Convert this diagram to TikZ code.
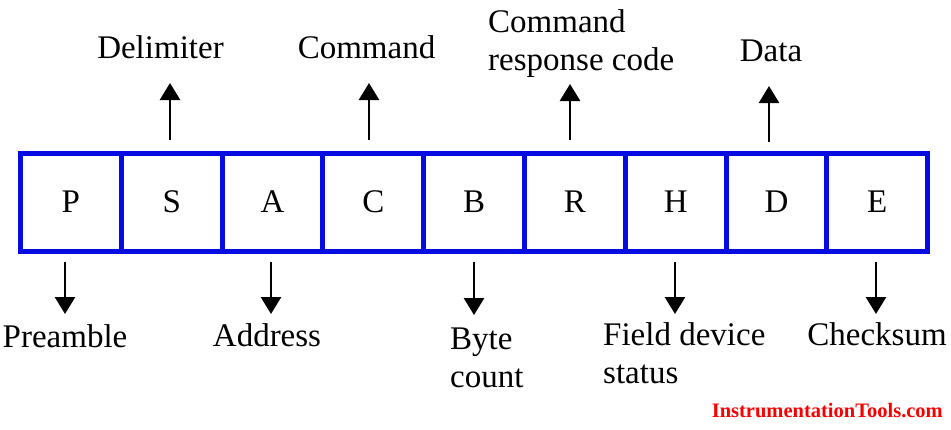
\documentclass[tikz,border=0pt]{standalone}
\usepackage{fontspec}
\setmainfont{Liberation Serif}
\usepackage{xcolor}
\usetikzlibrary{arrows.meta}
\definecolor{cellblue}{RGB}{5,12,225}
\definecolor{markred}{RGB}{250,0,0}

\begin{document}
\begin{tikzpicture}[x=1pt, y=-1pt,
        cell/.style={rectangle, draw=cellblue, line width=5pt, minimum width=100.8pt, minimum height=98pt, inner sep=0pt, font=\fontsize{33}{38}\selectfont},
        lbl/.style={inner sep=0pt, font=\fontsize{33}{38}\selectfont},
        arr/.style={line width=2.7pt, -{Triangle[width=20pt, length=17pt]}}]
            \useasboundingbox (0, 0) rectangle (951, 429);

            % Nodes
            \node[cell] (P) at (70.9, 202) {P};
            \node[cell] (S) at (171.7, 202) {S};
            \node[cell] (A) at (272.5, 202) {A};
            \node[cell] (C) at (373.3, 202) {C};
            \node[cell] (B) at (474.1, 202) {B};
            \node[cell] (R) at (574.9, 202) {R};
            \node[cell] (H) at (675.7, 202) {H};
            \node[cell] (D) at (776.5, 202) {D};
            \node[cell] (E) at (877.3, 202) {E};

            % labels (multi-line ones sit on their last baseline)
            \node[lbl, anchor=base] (delim) at (160.5, 58) {Delimiter};
            \node[lbl, anchor=base] (cmd) at (366.5, 58) {Command};
            \node[lbl, anchor=base west, align=left] (resp) at (488, 70) {Command\\response code};
            \node[lbl, anchor=base] (data) at (771, 61) {Data};
            \node[lbl, anchor=base] (pre) at (65, 347) {Preamble};
            \node[lbl, anchor=base] (addr) at (267, 346) {Address};
            \node[lbl, anchor=base west, align=left] (count) at (450, 387) {Byte\\count};
            \node[lbl, anchor=base west, align=left] (status) at (603, 383) {Field device\\status};
            \node[lbl, anchor=base] (sum) at (877, 345) {Checksum};

            \node[inner sep=0pt, anchor=base east, text=markred, font=\fontsize{20.5}{24}\selectfont\bfseries] (mark) at (943, 417) {InstrumentationTools.com};

            % Arrow ends
            \coordinate (s1) at (170, 140);  \coordinate (s2) at (170, 83);
            \coordinate (c1) at (369, 140);  \coordinate (c2) at (369, 83);
            \coordinate (r1) at (570, 140);  \coordinate (r2) at (570, 84);
            \coordinate (d1) at (769, 142);  \coordinate (d2) at (769, 86);
            \coordinate (p1) at (65, 262);   \coordinate (p2) at (65, 314);
            \coordinate (a1) at (271, 262);  \coordinate (a2) at (271, 314);
            \coordinate (b1) at (474, 262);  \coordinate (b2) at (474, 315);
            \coordinate (h1) at (675, 262);  \coordinate (h2) at (675, 314);
            \coordinate (e1) at (876, 262);  \coordinate (e2) at (876, 314);

            % Lines
            \draw[arr] (s1) -- (s2);
            \draw[arr] (c1) -- (c2);
            \draw[arr] (r1) -- (r2);
            \draw[arr] (d1) -- (d2);
            \draw[arr] (p1) -- (p2);
            \draw[arr] (a1) -- (a2);
            \draw[arr] (b1) -- (b2);
            \draw[arr] (h1) -- (h2);
            \draw[arr] (e1) -- (e2);
        \end{tikzpicture}
\end{document}
